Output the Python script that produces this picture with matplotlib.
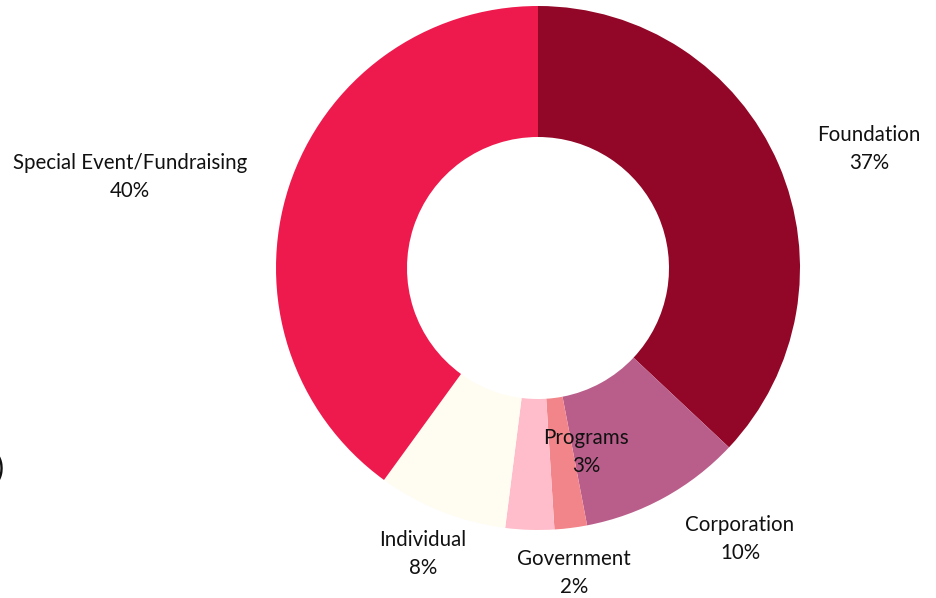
import matplotlib.pyplot as plt

plt.rcParams['font.family'] = ['Lato', 'DejaVu Sans']

categories = ['Foundation', 'Corporation', 'Government', 'Programs', 'Individual',
              'Special Event/Fundraising']
shares = [37, 10, 2, 3, 8, 40]
colors = ['#920627', '#b95e8a', '#f2858a', '#ffbdcb', '#fffdf1', '#ee1a4d']

# label anchor points in pixel space (x, y from top)
label_pos = [(869, 149), (740, 539), (574, 573), (586, 452), (423, 554), (130, 177)]

W, H = 937, 598
fig = plt.figure(figsize=(W / 100, H / 100), dpi=100)
ax = fig.add_axes([0, 0, 1, 1])

cx, cy, r = 538, H - 268, 262
ax.pie(shares, colors=colors, startangle=90, counterclock=False,
       center=(cx, cy), radius=r, frame=True,
       wedgeprops=dict(width=r * 0.5, linewidth=0))
ax.set_xlim(0, W)
ax.set_ylim(0, H)
ax.set_aspect('equal')
ax.axis('off')

for name, val, (x, y) in zip(categories, shares, label_pos):
    ax.text(x, H - y, f'{name}\n{val}%', ha='center', va='center',
            fontsize=14.8, color='#111111', linespacing=1.45)

# partly clipped element at the left edge, as in the source
ax.text(-5, H - 468, ')', fontsize=22, va='center', ha='left', color='#111111')

fig.savefig('out.png', dpi=100)
